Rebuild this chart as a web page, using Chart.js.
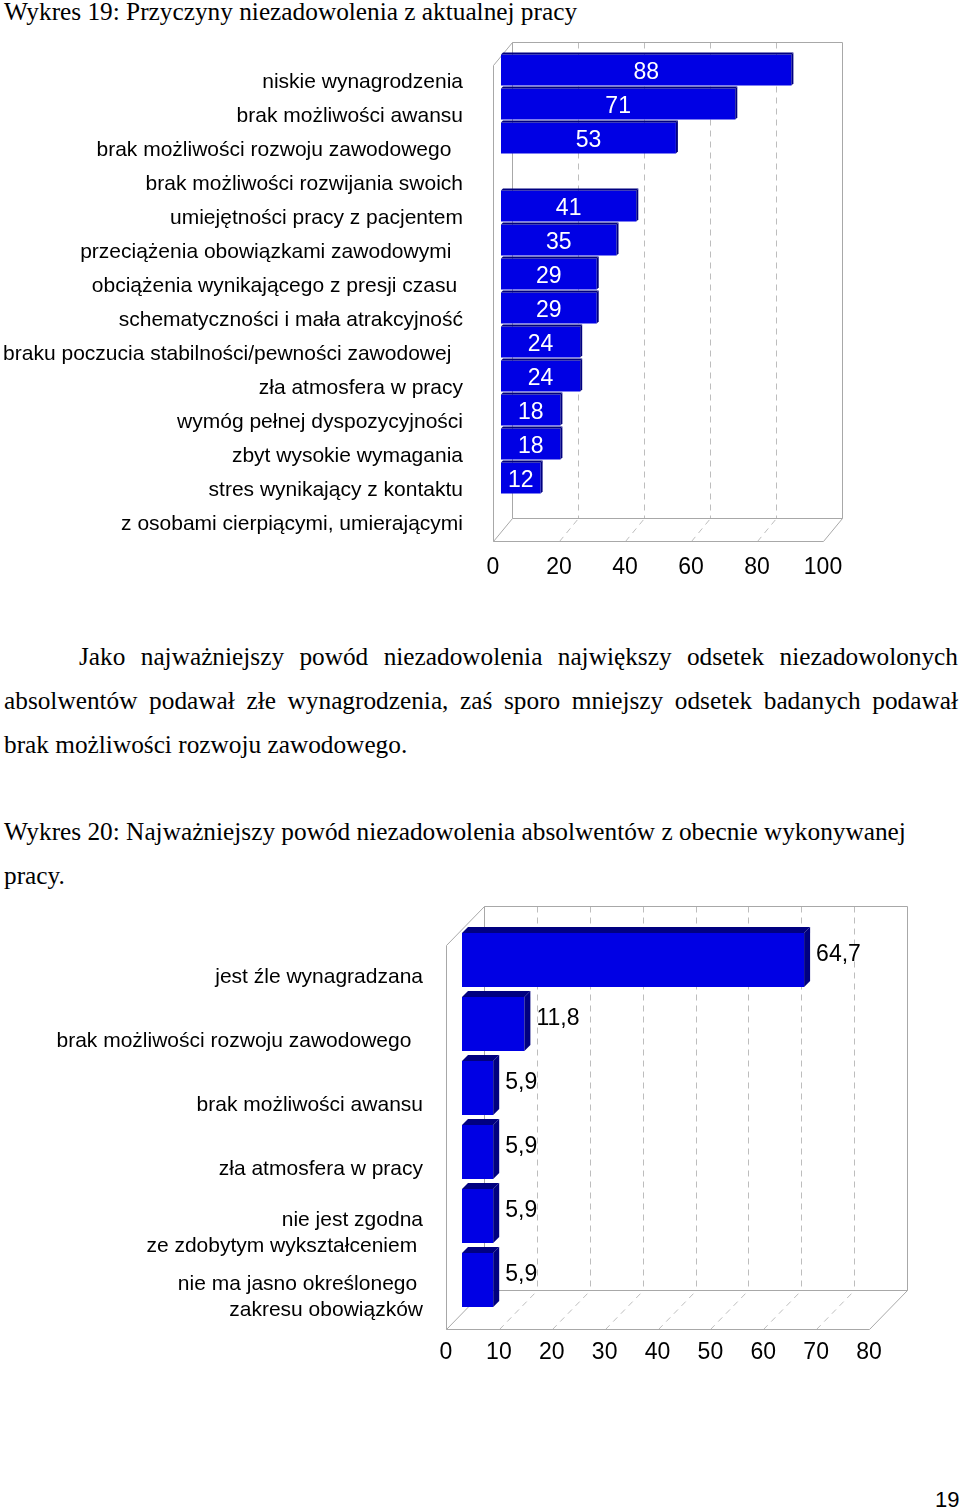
<!DOCTYPE html>
<html><head><meta charset="utf-8">
<script src="https://cdn.jsdelivr.net/npm/chart.js@4.4.1/dist/chart.umd.min.js"></script>
<style>
html,body{margin:0;padding:0;background:#fff;}
body{width:960px;height:1511px;position:relative;overflow:hidden;}
.serif{font-family:"Liberation Serif","Times New Roman",serif;font-size:25.3px;color:#000;position:absolute;white-space:nowrap;line-height:30px;}
#c1wrap{position:absolute;left:0;top:30px;width:960px;height:570px;}
#c2wrap{position:absolute;left:0;top:880px;width:960px;height:500px;}
#pg{position:absolute;left:935px;top:1487px;font-family:"Liberation Sans",Arial,sans-serif;font-size:22px;line-height:26px;}
</style></head><body>
<div class="serif" style="left:4px;top:-4px">Wykres 19: Przyczyny niezadowolenia z aktualnej pracy</div>
<div id="c1wrap"><canvas id="c1" width="960" height="570"></canvas></div>
<div class="serif" data-w="879" style="left:79px;top:641px">Jako najważniejszy powód niezadowolenia największy odsetek niezadowolonych</div>
<div class="serif" data-w="954" style="left:4px;top:685px">absolwentów podawał złe wynagrodzenia, zaś sporo mniejszy odsetek badanych podawał</div>
<div class="serif" style="left:4px;top:729px">brak możliwości rozwoju zawodowego.</div>
<div class="serif" style="left:4px;top:816px">Wykres 20: Najważniejszy powód niezadowolenia absolwentów z obecnie wykonywanej</div>
<div class="serif" style="left:4px;top:860px">pracy.</div>
<div id="c2wrap"><canvas id="c2" width="960" height="500"></canvas></div>
<div id="pg">19</div>
<script>
// ---------- DATA ----------
const c1Labels = [
  'niskie wynagrodzenia',
  'brak możliwości awansu',
  'brak możliwości rozwoju zawodowego  ',
  'brak możliwości rozwijania swoich',
  'umiejętności pracy z pacjentem',
  'przeciążenia obowiązkami zawodowymi  ',
  'obciążenia wynikającego z presji czasu ',
  'schematyczności i mała atrakcyjność',
  'braku poczucia stabilności/pewności zawodowej  ',
  'zła atmosfera w pracy',
  'wymóg pełnej dyspozycyjności',
  'zbyt wysokie wymagania',
  'stres wynikający z kontaktu',
  'z osobami cierpiącymi, umierającymi'
];
const c1Values = [88, 71, 53, null, 41, 35, 29, 29, 24, 24, 18, 18, 12, null];
const c1Ticks = [0, 20, 40, 60, 80, 100];

const c2Labels = [
  ['jest źle wynagradzana'],
  ['brak możliwości rozwoju zawodowego  '],
  ['brak możliwości awansu'],
  ['zła atmosfera w pracy'],
  ['nie jest zgodna', 'ze zdobytym wykształceniem '],
  ['nie ma jasno określonego ', 'zakresu obowiązków']
];
const c2Values = [64.7, 11.8, 5.9, 5.9, 5.9, 5.9];
const c2Ticks = [0, 10, 20, 30, 40, 50, 60, 70, 80];

// ---------- justify helper ----------
document.querySelectorAll('[data-w]').forEach(el => {
  const target = +el.dataset.w;
  const nat = el.getBoundingClientRect().width;
  const n = (el.textContent.match(/ /g) || []).length;
  el.style.wordSpacing = ((target - nat) / n) + 'px';
});

const FRONT = 'rgb(0,0,228)';
const DARK = 'rgb(0,0,128)';
const SOLID = '#a8a8a8';
const DASH = '#bdbdbd';
const fmt = v => String(v).replace('.', ',');

function threeD(cfg) {
  return {
    id: 'threeD',
    beforeDatasetsDraw(chart) {
      const {ctx, chartArea: a, scales: {x}} = chart;
      const f = cfg.front, b = cfg.back;
      const L = a.left, R = a.right, T = a.top, B = a.bottom;
      const ln = (x1, y1, x2, y2) => { ctx.beginPath(); ctx.moveTo(Math.round(x1) + .5, Math.round(y1) + .5); ctx.lineTo(Math.round(x2) + .5, Math.round(y2) + .5); ctx.stroke(); };
      ctx.save();
      ctx.lineWidth = 1;
      ctx.strokeStyle = DASH;
      ctx.setLineDash([6, 5]);
      cfg.ticks.slice(1, -1).forEach(v => {
        const px = x.getPixelForValue(v);
        ln(px + b[0], T + b[1], px + b[0], B + b[1]);
        ln(px + f[0], B + f[1], px + b[0], B + b[1]);
      });
      ctx.setLineDash([]);
      ctx.strokeStyle = SOLID;
      ln(L + f[0], T + f[1], L + f[0], B + f[1]);
      ln(L + f[0], T + f[1], L + b[0], T + b[1]);
      ln(L + b[0], T + b[1], L + b[0], B + b[1]);
      ln(L + b[0], T + b[1], R + b[0], T + b[1]);
      ln(R + b[0], T + b[1], R + b[0], B + b[1]);
      ln(L + b[0], B + b[1], R + b[0], B + b[1]);
      ln(L + f[0], B + f[1], R + f[0], B + f[1]);
      ln(L + f[0], B + f[1], L + b[0], B + b[1]);
      ln(R + f[0], B + f[1], R + b[0], B + b[1]);
      ctx.restore();
    },
    afterDatasetsDraw(chart) {
      const {ctx} = chart;
      const meta = chart.getDatasetMeta(0);
      const d = cfg.depth;
      ctx.save();
      meta.data.forEach((bar, i) => {
        const v = cfg.values[i];
        if (v == null) return;
        const p = bar.getProps(['x', 'y', 'base', 'height'], true);
        const top = p.y - p.height / 2, bot = p.y + p.height / 2;
        ctx.fillStyle = DARK;
        ctx.beginPath();
        ctx.moveTo(p.base, top); ctx.lineTo(p.x, top); ctx.lineTo(p.x + d, top - d); ctx.lineTo(p.base + d, top - d); ctx.closePath(); ctx.fill();
        ctx.beginPath();
        ctx.moveTo(p.x, top); ctx.lineTo(p.x + d, top - d); ctx.lineTo(p.x + d, bot - d); ctx.lineTo(p.x, bot); ctx.closePath(); ctx.fill();
        ctx.font = cfg.labelFont;
        ctx.textBaseline = 'middle';
        if (cfg.inside) {
          ctx.fillStyle = '#fff';
          ctx.textAlign = 'center';
          ctx.fillText(fmt(v), (p.base + p.x) / 2, p.y + cfg.labelDy);
        } else {
          ctx.fillStyle = '#000';
          ctx.textAlign = 'left';
          ctx.fillText(fmt(v), p.x + cfg.labelDx, p.y + cfg.labelDy);
        }
      });
      ctx.restore();
    }
  };
}

Chart.defaults.font.family = '"Liberation Sans", Arial, sans-serif';
Chart.defaults.color = '#000';

const fixY = w => s => { s.width = w; s.paddingTop = 0; s.paddingBottom = 0; };
const fixX = h => s => { s.height = h; s.paddingLeft = 0; s.paddingRight = 0; };

new Chart(document.getElementById('c1'), {
  type: 'bar',
  data: { labels: c1Labels, datasets: [{ data: c1Values, backgroundColor: FRONT, borderWidth: 0, categoryPercentage: 0.91, barPercentage: 1 }] },
  options: {
    indexAxis: 'y', responsive: false, animation: false,
    layout: { padding: { top: 23, right: 129, left: 0, bottom: 0 } },
    plugins: { legend: { display: false }, tooltip: { enabled: false } },
    scales: {
      x: {
        type: 'linear', min: 0, max: 100,
        grid: { display: false, drawTicks: false }, border: { display: false },
        afterBuildTicks: s => { s.ticks = c1Ticks.map(v => ({ value: v })); },
        afterFit: fixX(71),
        ticks: { font: { size: 23 }, padding: 25, labelOffset: -8, color: '#000' }
      },
      y: {
        grid: { display: false, drawTicks: false }, border: { display: false },
        afterFit: fixY(501),
        ticks: { font: { size: 21 }, padding: 38, labelOffset: 12, autoSkip: false, color: '#000' }
      }
    }
  },
  plugins: [threeD({ front: [-8, 12], back: [11, -11], ticks: c1Ticks, values: c1Values, depth: 2, inside: true, labelFont: '23px "Liberation Sans", Arial, sans-serif', labelDy: 3 })]
});

new Chart(document.getElementById('c2'), {
  type: 'bar',
  data: { labels: c2Labels, datasets: [{ data: c2Values, backgroundColor: FRONT, borderWidth: 0, categoryPercentage: 0.844, barPercentage: 1 }] },
  options: {
    indexAxis: 'y', responsive: false, animation: false,
    layout: { padding: { top: 48, right: 75, left: 0, bottom: 0 } },
    plugins: { legend: { display: false }, tooltip: { enabled: false } },
    scales: {
      x: {
        type: 'linear', min: 0, max: 80,
        grid: { display: false, drawTicks: false }, border: { display: false },
        afterBuildTicks: s => { s.ticks = c2Ticks.map(v => ({ value: v })); },
        afterFit: fixX(68),
        ticks: { font: { size: 23 }, padding: 27, labelOffset: -16, color: '#000' }
      },
      y: {
        grid: { display: false, drawTicks: false }, border: { display: false },
        afterFit: fixY(462),
        ticks: { font: { size: 21, lineHeight: '26px' }, padding: 39, labelOffset: 17, autoSkip: false, color: '#000' }
      }
    }
  },
  plugins: [threeD({ front: [-16, 17], back: [22, -22], ticks: c2Ticks, values: c2Values, depth: 6, inside: false, labelFont: '23px "Liberation Sans", Arial, sans-serif', labelDx: 12, labelDy: -5 })]
});
</script>
</body></html>
